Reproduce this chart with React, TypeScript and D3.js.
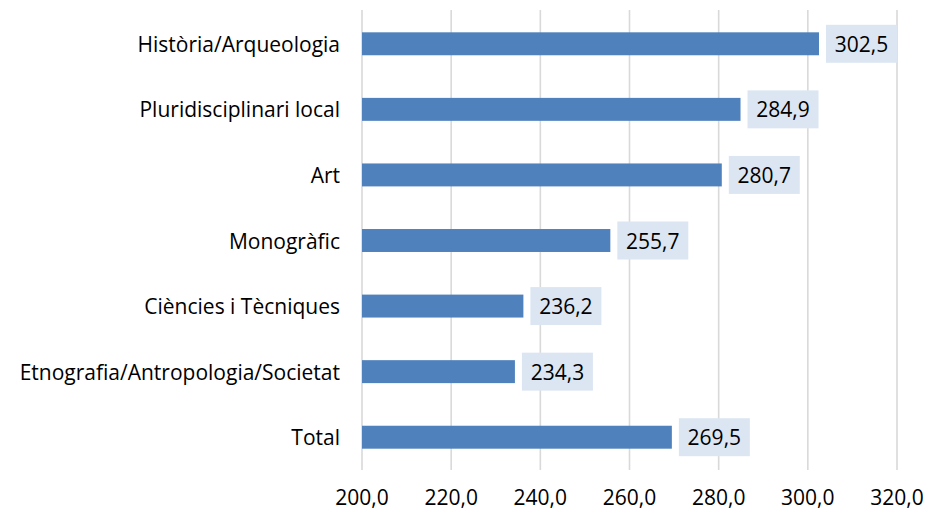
import * as d3 from "d3";

const categories = [
  "Història/Arqueologia",
  "Pluridisciplinari local",
  "Art",
  "Monogràfic",
  "Ciències i Tècniques",
  "Etnografia/Antropologia/Societat",
  "Total",
];
const values = [302.5, 284.9, 280.7, 255.7, 236.2, 234.3, 269.5];
const ticks = [200, 220, 240, 260, 280, 300, 320];

const W = 929;
const H = 511;
const FONT = "'Open Sans', sans-serif";
const FS = 21;

const fmt = (v: number) => d3.format(".1f")(v).replace(".", ",");

export default function App() {
  const x = d3.scaleLinear().domain([200, 320]).range([362, 897]);
  const y = d3.scaleBand().domain(categories).range([11, 470]).paddingInner(0.65).paddingOuter(0.325);
  const bh = y.bandwidth();

  return (
    <svg width={W} height={H} style={{ position: "absolute", left: 0, top: 0 }} fontFamily={FONT}>
      <rect width={W} height={H} fill="#fff" />
      {ticks.map((t) => (
        <g key={t}>
          <line x1={x(t)} x2={x(t)} y1={10} y2={470} stroke="#d9d9d9" strokeWidth={1.6} />
          <text x={x(t)} y={497} fontSize={FS} textAnchor="middle" dominantBaseline="central" fill="#000">
            {fmt(t)}
          </text>
        </g>
      ))}
      {categories.map((c, i) => {
        const cy = (y(c) ?? 0) + bh / 2;
        const xe = x(values[i]);
        return (
          <g key={c}>
            <text x={340} y={cy} fontSize={FS} textAnchor="end" dominantBaseline="central" fill="#000">
              {c}
            </text>
            <rect x={xe + 7} y={cy - 19} width={71} height={38} fill="#dce6f2" />
            <rect x={x(200)} y={cy - bh / 2} width={xe - x(200)} height={bh} fill="#4f81bd" />
            <text x={xe + 42.5} y={cy} fontSize={FS} textAnchor="middle" dominantBaseline="central" fill="#000">
              {fmt(values[i])}
            </text>
          </g>
        );
      })}
    </svg>
  );
}
